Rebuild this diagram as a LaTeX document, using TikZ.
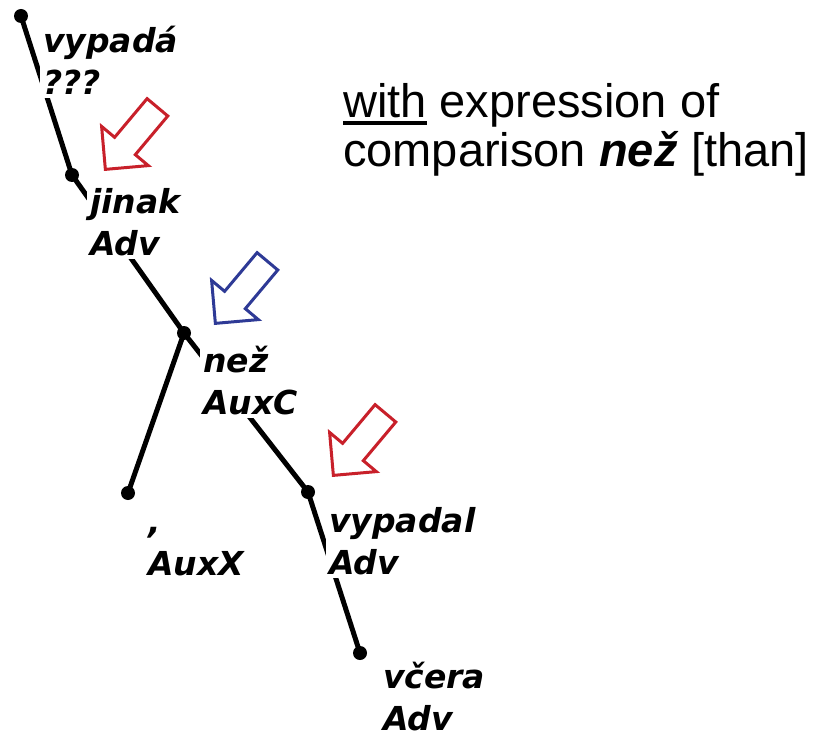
\documentclass[tikz,border=0pt]{standalone}
\usepackage{fontspec}
\setmainfont{Liberation Sans}
\newfontfamily\treefont{DejaVu Sans}
\usetikzlibrary{shapes.arrows}
\definecolor{hintred}{HTML}{C8202A}
\definecolor{hintblue}{HTML}{2E3A96}
\newcommand{\ulin}[1]{\setbox0\hbox{#1}\rlap{\rule[-7.5pt]{\wd0}{3.5pt}}#1}
\tikzset{
  dot/.style  ={circle, fill=black, inner sep=0pt, minimum size=14pt},
  edg/.style  ={draw=black, line width=5pt},
  lbl/.style  ={fill=white, align=left, anchor=north west, inner sep=3pt, font=\treefont\bfseries\itshape\fontsize{33}{42}\selectfont},
  hint/.style ={single arrow, draw=#1, line width=3pt, rotate=230, anchor=tip, minimum height=81pt, inner sep=12pt, single arrow head extend=17pt},
  note/.style ={align=left, anchor=north west, inner sep=0pt, font=\fontsize{47}{49}\selectfont},
}

\begin{document}
\begin{tikzpicture}[x=1pt,y=-1pt]
    \useasboundingbox (0,0) rectangle (819,738);
    % tree nodes
    \node[dot] (vypada)  at (21,16)   {};
    \node[dot] (jinak)   at (72,175)  {};
    \node[dot] (nez)     at (184,333) {};
    \node[dot] (carka)   at (128,493) {};
    \node[dot] (vypadal) at (308,492) {};
    \node[dot] (vcera)   at (360,653) {};
    \draw[edg] (vypada.center) -- (jinak.center);
    \draw[edg] (jinak.center) -- (nez.center);
    \draw[edg] (nez.center) -- (carka.center);
    \draw[edg] (nez.center) -- (vypadal.center);
    \draw[edg] (vypadal.center) -- (vcera.center);
    % labels
    \node[lbl] (lvypada)  at (40,20)   {\strut vypadá\\???};
    \node[lbl] (ljinak)   at (87,181)  {\strut jinak\\Adv};
    \node[lbl] (lnez)     at (200,340) {\strut než\\AuxC};
    \node[lbl] (lcarka)   at (145,501) {\strut ,\\AuxX};
    \node[lbl] (lvypadal) at (326,500) {\strut vypadal\\Adv};
    \node[lbl] (lvcera)   at (380,656) {\strut včera\\Adv};
    % hint arrows
    \node[hint=hintred]  (ar1) at (104,171) {};
    \node[hint=hintblue] (ar2) at (214,325) {};
    \node[hint=hintred]  (ar3) at (332,477) {};
    \node[note] (cap) at (343,83) {\ulin{with} expression of\\comparison \textbf{\textit{než}} [than]};
\end{tikzpicture}
\end{document}
